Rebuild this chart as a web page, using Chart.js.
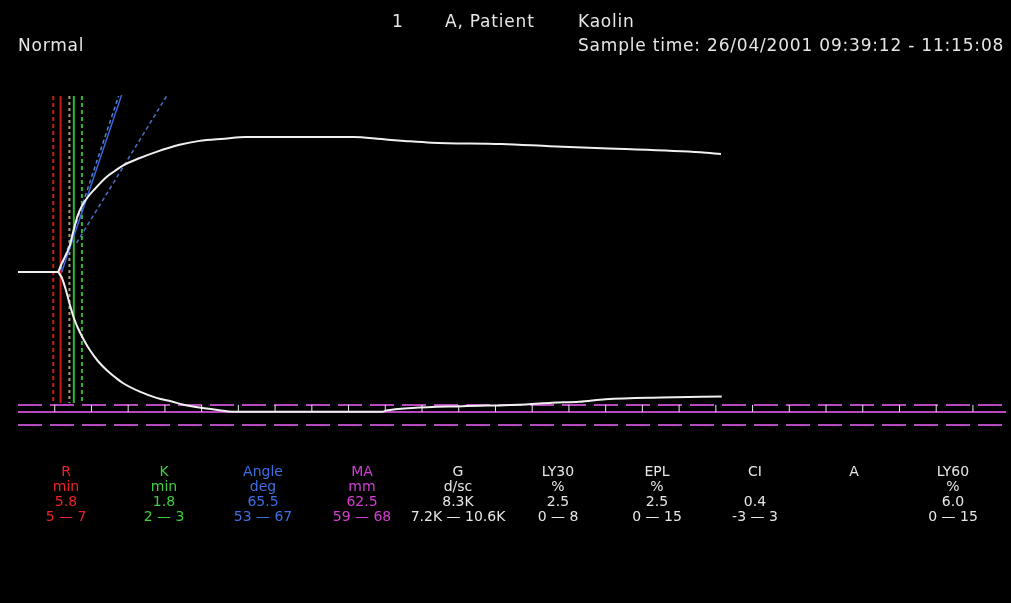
<!DOCTYPE html>
<html>
<head>
<meta charset="utf-8">
<script src="https://cdn.jsdelivr.net/npm/chart.js@4"></script>
<style>
  body { margin: 0; background: #000; }
  #wrap { position: relative; width: 1011px; height: 603px; background: #000; overflow: hidden;
          font-family: "DejaVu Sans", sans-serif; color: #e6e6e6; }
  canvas { position: absolute; left: 0; top: 0; }
  .t { position: absolute; white-space: nowrap; font-size: 17px; line-height: 18px; letter-spacing: 0.8px; }
  .col { position: absolute; top: 464px; width: 140px; margin-left: -70px; text-align: center;
         font-size: 14px; line-height: 15px; }
</style>
</head>
<body>
<div id="wrap">
  <canvas id="teg" width="1011" height="603"></canvas>
  <div class="t" style="left:392px;top:12px">1</div>
  <div class="t" style="left:445px;top:12px">A, Patient</div>
  <div class="t" style="left:578px;top:12px">Kaolin</div>
  <div class="t" style="left:18px;top:36px">Normal</div>
  <div class="t" style="left:578px;top:36px">Sample time: 26/04/2001 09:39:12 - 11:15:08</div>
  <div id="tabela"></div>
</div>
<script>
// tempo em minutos, amplitude em mm (metade de cima positiva, metade de baixo negativa)
var baseTime = [0, 5.5];
var baseAmp = [0, 0];

var upperTime = [5.48, 5.98, 6.52, 7.07, 7.61, 8.15, 8.70, 9.51, 10.46, 12.05, 13.18, 14.27, 16.6, 18.85, 22.0, 24.7, 28.1, 31.0, 45.7, 49.5, 52.6, 56.3, 65.8, 72.4, 79.5, 92.9, 95.7];
var upperAmp  = [0, 2.05, 3.86, 6.14, 9.77, 12.95, 15.0, 17.05, 18.86, 21.59, 22.95, 24.2, 25.9, 27.3, 28.9, 29.8, 30.3, 30.7, 30.7, 30.2, 29.8, 29.4, 29.1, 28.6, 28.1, 27.2, 26.8];

var lowerTime = [5.48, 5.98, 6.52, 7.07, 7.61, 8.15, 8.97, 9.78, 10.87, 12.05, 13.18, 14.27, 16.58, 18.85, 21.06, 22.4, 24.7, 27.4, 29.2, 49.6, 50.1, 53.7, 60.5, 69.2, 72.7, 76.4, 80.0, 87.6, 95.8];
var lowerAmp  = [0, -1.36, -4.09, -7.5, -10.45, -12.73, -15.45, -17.73, -20.23, -22.27, -23.86, -25.23, -27.2, -28.6, -29.5, -30.1, -30.8, -31.4, -31.75, -31.75, -31.5, -30.9, -30.5, -30.1, -29.7, -29.5, -28.9, -28.5, -28.3];

// linhas verticais R / K (limites normais e valores)
var markerTimes = [4.8, 5.8, 7.0, 7.6, 8.7];
var markerTop = 40;
var markerBottom = -29.8;

// linhas do angulo
var angleT0 = [5.93, 5.8, 7.97];
var angleA0 = [-0.1, 0.5, 6.6];
var angleT1 = [14.1, 13.7, 20.24];
var angleA1 = [40.2, 40, 40];

// linhas magenta e marcas de tempo
var railLevels = [-30.2, -31.8, -34.8];
var tickTimes = [5, 10, 15, 20, 25, 30, 35, 40, 45, 50, 55, 60, 65, 70, 75, 80, 85, 90, 95, 100, 105, 110, 115, 120, 125, 130];
var tickLevel = -31;
var xMax = 134.5;

// tabela de parametros
var paramNames  = ['R', 'K', 'Angle', 'MA', 'G', 'LY30', 'EPL', 'CI', 'A', 'LY60'];
var paramUnits  = ['min', 'min', 'deg', 'mm', 'd/sc', '%', '%', '', '', '%'];
var paramValues = ['5.8', '1.8', '65.5', '62.5', '8.3K', '2.5', '2.5', '0.4', '', '6.0'];
var paramRanges = ['5 \u2014 7', '2 \u2014 3', '53 \u2014 67', '59 \u2014 68', '7.2K \u2014 10.6K', '0 \u2014 8', '0 \u2014 15', '-3 \u2014 3', '', '0 \u2014 15'];

var colCenters = [66, 164, 263, 362, 458, 558, 657, 755, 854, 953];
var colColors = ['#e8242a', '#3fce3f', '#3e6fe0', '#d23fd2', '#e6e6e6', '#e6e6e6', '#e6e6e6', '#e6e6e6', '#e6e6e6', '#e6e6e6'];

function pares(xs, ys) {
    var out = [];
    for (var i = 0; i < xs.length; i++) out.push({x: xs[i], y: ys[i]});
    return out;
}

var html = '';
for (var i = 0; i < paramNames.length; i++) {
    html += '<div class="col" style="left:' + colCenters[i] + 'px;color:' + colColors[i] + '">' +
        paramNames[i] + '<br>' + (paramUnits[i] || '&nbsp;') + '<br>' + (paramValues[i] || '&nbsp;') + '<br>' +
        (paramRanges[i] || '&nbsp;') + '</div>';
}
document.getElementById('tabela').innerHTML = html;

var datasets = [];

// traçado
datasets.push({ data: pares(baseTime, baseAmp), borderColor: '#f0f0f0', borderWidth: 2, order: 1 });
datasets.push({ data: pares(upperTime, upperAmp), borderColor: '#f0f0f0', borderWidth: 2, order: 1, cubicInterpolationMode: 'monotone' });
datasets.push({ data: pares(lowerTime, lowerAmp), borderColor: '#f0f0f0', borderWidth: 2, order: 1, cubicInterpolationMode: 'monotone' });

// linhas verticais
var markerColors = ['#c81c1c', '#d01818', '#a8a070', '#2fb82f', '#2fb82f'];
var markerDash = [[4, 3], [], [3, 3], [], [4, 3]];
for (var i = 0; i < markerTimes.length; i++) {
    datasets.push({
        data: [{x: markerTimes[i], y: markerTop}, {x: markerTimes[i], y: markerBottom}],
        borderColor: markerColors[i], borderWidth: 2, borderDash: markerDash[i], order: 5
    });
}

// angulo
var angleColors = ['#3a68e0', '#5a80d0', '#4a70c8'];
var angleDash = [[], [4, 3], [4, 3]];
for (var i = 0; i < angleT0.length; i++) {
    datasets.push({
        data: [{x: angleT0[i], y: angleA0[i]}, {x: angleT1[i], y: angleA1[i]}],
        borderColor: angleColors[i], borderWidth: 1.5, borderDash: angleDash[i], order: 4
    });
}

// trilhos magenta
var railDash = [[24, 8], [], [24, 8]];
for (var i = 0; i < railLevels.length; i++) {
    datasets.push({
        data: [{x: 0, y: railLevels[i]}, {x: xMax, y: railLevels[i]}],
        borderColor: '#b848c0', borderWidth: 2, borderDash: railDash[i], order: 3
    });
}

// marcas de 5 em 5 minutos
datasets.push({
    data: tickTimes.map(function(t) { return {x: t, y: tickLevel}; }),
    showLine: false, pointStyle: 'line', rotation: 90, pointRadius: 3.5,
    pointBorderColor: '#e8e8e8', pointBorderWidth: 1, order: 2
});

datasets.forEach(function(d) {
    if (d.showLine === undefined) { d.showLine = true; d.pointRadius = 0; }
    d.fill = false;
    d.clip = false;
});

new Chart(document.getElementById('teg').getContext('2d'), {
    type: 'scatter',
    data: { datasets: datasets },
    options: {
        responsive: false,
        animation: false,
        layout: { padding: { left: 18, top: 96, right: 3, bottom: 155 } },
        plugins: { legend: { display: false }, tooltip: { enabled: false } },
        scales: {
            x: { type: 'linear', min: 0, max: xMax, display: false },
            y: { type: 'linear', min: -40, max: 40, display: false }
        }
    }
});
</script>
</body>
</html>
